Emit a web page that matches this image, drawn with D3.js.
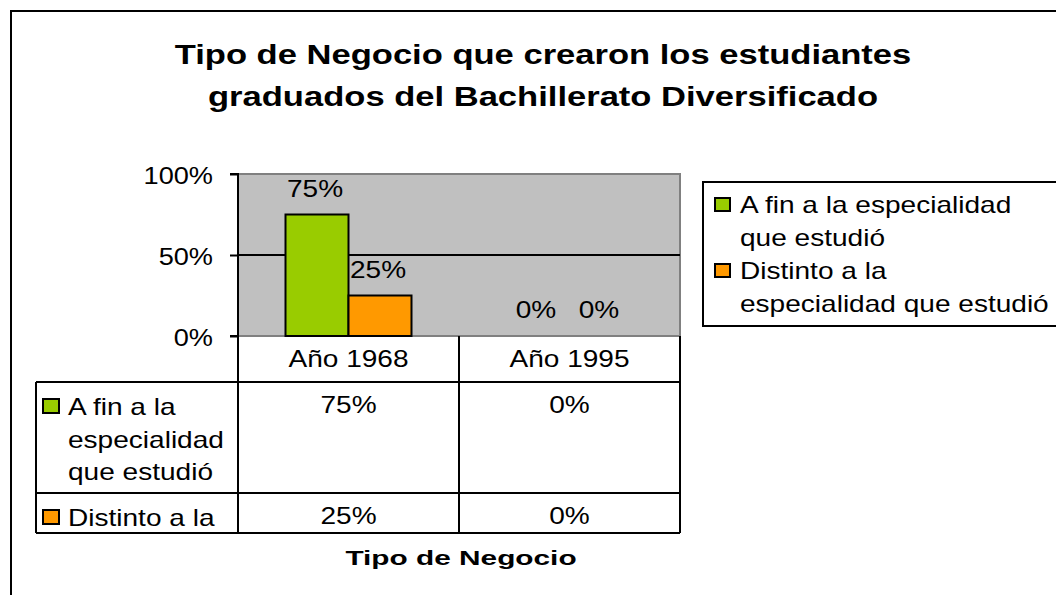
<!DOCTYPE html>
<html><head><meta charset="utf-8">
<script src="https://cdn.jsdelivr.net/npm/d3@7"></script>
<style>
html,body{margin:0;padding:0;background:#fff;}
svg{display:block;}
text{font-family:"Liberation Sans",Arial,sans-serif;fill:#000;}
</style></head>
<body>
<script>
const categories = ["Año 1968", "Año 1995"];
const seriesNames = ["A fin a la especialidad que estudió", "Distinto a la especialidad que estudió"];
const seriesTableLabels = [["A fin a la", "especialidad", "que estudió"], ["Distinto a la"]];
const legendLabels = [["A fin a la especialidad", "que estudió"], ["Distinto a la", "especialidad que estudió"]];
const afinValues = [0.75, 0.0];
const distintoValues = [0.25, 0.0];
const yTicks = [0, 0.5, 1];
const colors = ["#99cc00", "#ff9900"];
const titleLines = ["Tipo de Negocio que crearon los estudiantes", "graduados del Bachillerato Diversificado"];
const axisTitle = "Tipo de Negocio";

const seriesValues = [afinValues, distintoValues];
const W = 1056, H = 595;
const FS = 23;   // base font size
const SX = 1.22; // horizontal stretch of the original rendering
const svg = d3.select("body").append("svg").attr("width", W).attr("height", H);
const pct = d3.format(".0%");
const place = (sel, fx, fy, sx) => sel.attr("x", 0).attr("y", 0)
  .attr("transform", (d, i) => `translate(${fx(d, i)},${fy(d, i)}) scale(${sx || SX},1)`);

// outer frame
svg.append("rect").attr("x", 11).attr("y", 11).attr("width", 1200).attr("height", 800)
  .attr("fill", "#fff").attr("stroke", "#000").attr("stroke-width", 2);

// title
svg.append("g").selectAll("text").data(titleLines).join("text")
  .attr("text-anchor", "middle").attr("font-weight", "bold").attr("font-size", 27)
  .text(d => d)
  .call(place, () => 543, (d, i) => 64 + i * 42, 1.28);

const plot = {left: 238, right: 680, top: 174, bottom: 336};
const x0 = d3.scaleBand().domain(categories).range([plot.left, plot.right]).padding(0);
const x1 = d3.scaleBand().domain([0, 1]).range([0, x0.bandwidth()]).paddingInner(0).paddingOuter(0.754);
const y = d3.scaleLinear().domain([0, 1]).range([plot.bottom, plot.top]);

// plot background
svg.append("rect").attr("x", plot.left).attr("y", plot.top)
  .attr("width", plot.right - plot.left).attr("height", plot.bottom - plot.top)
  .attr("fill", "#c0c0c0").attr("stroke", "#808080").attr("stroke-width", 2);

// gridlines
svg.append("g").selectAll("line").data(yTicks.filter(t => t > 0 && t < 1)).join("line")
  .attr("x1", plot.left).attr("x2", plot.right)
  .attr("y1", d => y(d)).attr("y2", d => y(d))
  .attr("stroke", "#000").attr("stroke-width", 2);

// bars
const groups = svg.append("g").selectAll("g").data(categories).join("g")
  .attr("transform", d => `translate(${x0(d)},0)`);
groups.selectAll("rect").data((c, ci) => seriesValues.map((s, si) => ({si, v: s[ci]})))
  .join("rect")
  .filter(d => d.v > 0)
  .attr("x", d => x1(d.si)).attr("width", x1.bandwidth())
  .attr("y", d => y(d.v)).attr("height", d => y(0) - y(d.v))
  .attr("fill", d => colors[d.si]).attr("stroke", "#000").attr("stroke-width", 2);
groups.selectAll("text").data((c, ci) => seriesValues.map((s, si) => ({si, v: s[ci]})))
  .join("text")
  .attr("text-anchor", "middle").attr("font-size", FS)
  .text(d => pct(d.v))
  .call(place, d => x1(d.si) + x1.bandwidth() / 2 - 2, d => y(d.v) - 18);

// y axis
const yAxis = d3.axisLeft(y).tickValues(yTicks).tickFormat(pct).tickSize(8).tickPadding(17);
const ya = svg.append("g").attr("transform", `translate(${plot.left},0)`).call(yAxis);
ya.select(".domain").attr("stroke", "#000").attr("stroke-width", 2).attr("d", `M-8,${plot.top}H0V${plot.bottom}H-8`);
ya.selectAll(".tick line").attr("stroke", "#000").attr("stroke-width", 2);
ya.selectAll(".tick text").attr("font-size", FS).attr("font-family", '"Liberation Sans",Arial,sans-serif')
  .attr("fill", "#000").attr("dy", "0.42em")
  .call(place, () => -25, () => 0, 1.18);

// data table
const tbl = {left: 36, headerTop: 336, row1Top: 382, row2Top: 493, bottom: 533};
const rowTops = [tbl.row1Top, tbl.row2Top];
const g = svg.append("g").attr("stroke", "#000").attr("stroke-width", 2).attr("fill", "none");
g.append("path").attr("d",
  `M${plot.left},${tbl.headerTop}V${tbl.bottom}` +
  `M${plot.right},${tbl.headerTop}V${tbl.bottom}` +
  `M${x0(categories[1])},${tbl.headerTop}V${tbl.bottom}` +
  `M${tbl.left},${tbl.row1Top}H${plot.right}` +
  `M${tbl.left},${tbl.row2Top}H${plot.right}` +
  `M${tbl.left},${tbl.bottom}H${plot.right}` +
  `M${tbl.left},${tbl.row1Top}V${tbl.bottom}`);

svg.append("g").selectAll("text").data(categories).join("text")
  .attr("text-anchor", "middle").attr("font-size", FS).text(d => d)
  .call(place, d => x0(d) + x0.bandwidth() / 2, () => 367);

// table values
const cellData = [];
seriesValues.forEach((s, si) => s.forEach((v, ci) => cellData.push({si, ci, v})));
svg.append("g").selectAll("text").data(cellData).join("text")
  .attr("text-anchor", "middle").attr("font-size", FS).text(d => pct(d.v))
  .call(place, d => x0(categories[d.ci]) + x0.bandwidth() / 2, d => rowTops[d.si] + 31);

// table row labels
seriesTableLabels.forEach((lines, si) => {
  svg.append("rect").attr("x", 43).attr("y", rowTops[si] + 17).attr("width", 16).attr("height", 14)
    .attr("fill", colors[si]).attr("stroke", "#000").attr("stroke-width", 2);
  svg.append("g").selectAll("text").data(lines).join("text")
    .attr("font-size", FS).text(d => d)
    .call(place, () => 68, (d, i) => rowTops[si] + 33 + i * 32.5);
});

// axis title
svg.append("text").attr("text-anchor", "middle")
  .attr("font-weight", "bold").attr("font-size", 21).text(axisTitle)
  .call(place, () => 461, () => 565, 1.42);

// legend
const lg = svg.append("g");
lg.append("rect").attr("x", 703).attr("y", 182).attr("width", 400).attr("height", 144)
  .attr("fill", "#fff").attr("stroke", "#000").attr("stroke-width", 2);
legendLabels.forEach((lines, si) => {
  const top = 198 + si * 66;
  lg.append("rect").attr("x", 715).attr("y", top).attr("width", 15).attr("height", 13)
    .attr("fill", colors[si]).attr("stroke", "#000").attr("stroke-width", 2);
  lg.append("g").selectAll("text").data(lines).join("text")
    .attr("font-size", FS).text(d => d)
    .call(place, () => 740, (d, i) => top + 15 + i * 33);
});
</script>
</body></html>
